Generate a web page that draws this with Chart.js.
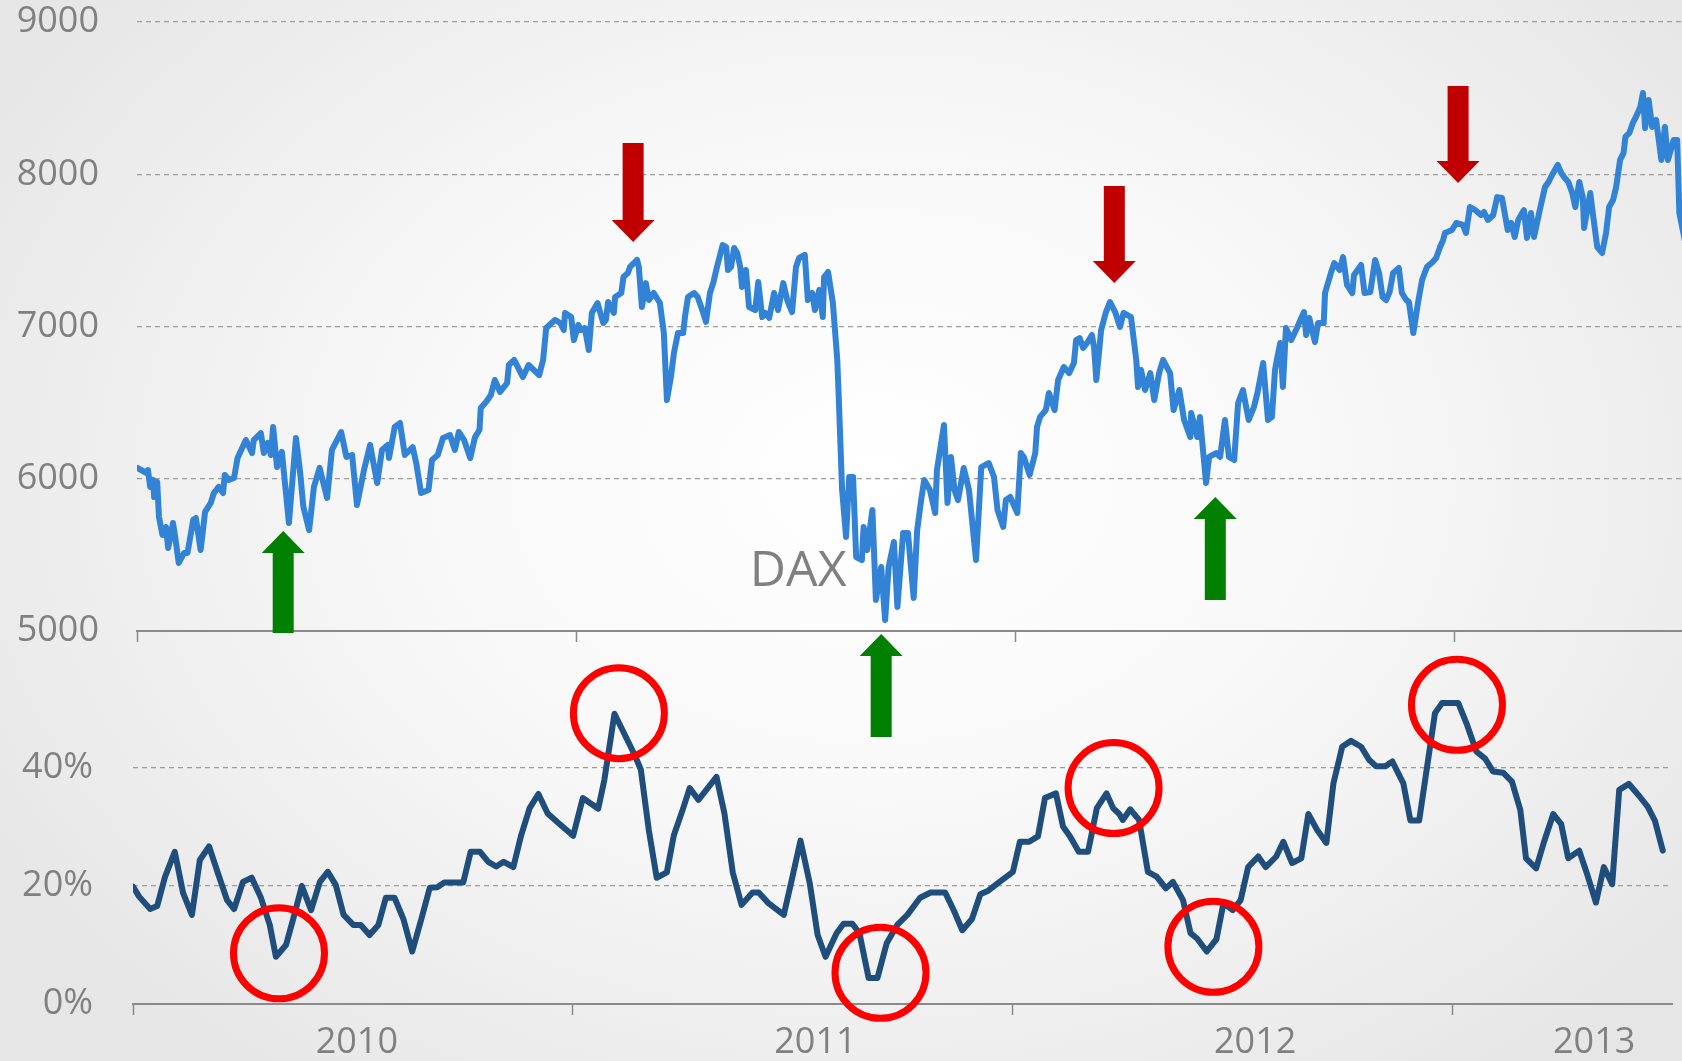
<!DOCTYPE html>
<html>
<head>
<meta charset="utf-8">
<script src="https://cdn.jsdelivr.net/npm/chart.js@4.4.1/dist/chart.umd.min.js"></script>
<style>
  html, body { margin: 0; padding: 0; width: 1682px; height: 1061px; overflow: hidden; }
  body { background: radial-gradient(ellipse 62% 72% at 52% 45%, #ffffff 0%, #f8f8f8 45%, #e6e6e6 100%); }
  canvas { position: absolute; left: 0; top: 0; }
</style>
</head>
<body>
<canvas id="daxChart" width="1682" height="1061"></canvas>
<canvas id="pctChart" width="1682" height="1061"></canvas>
<script>
// time axis: years since 1 Jan 2010
const YEAR_BOUNDS = [0, 1, 2, 3];
const YEAR_LABELS = ['2010', '2011', '2012', '2013'];
const YEAR_LABEL_POS = [0.509, 1.552, 2.552, 3.323];

const DAX_TICKS = [5000, 6000, 7000, 8000, 9000];
const PCT_TICKS = [0, 20, 40];

// DAX index (upper panel)
const DAX_T = [0.001,0.021,0.025,0.030,0.037,0.039,0.046,0.050,0.058,0.066,0.071,0.082,0.087,0.095,0.107,0.115,0.128,0.134,0.145,0.155,
  0.168,0.175,0.186,0.196,0.200,0.209,0.221,0.229,0.248,0.262,0.266,0.282,0.289,0.298,0.305,0.310,0.319,0.330,0.346,0.362,
  0.371,0.379,0.392,0.403,0.416,0.433,0.444,0.465,0.477,0.490,0.501,0.517,0.531,0.547,0.558,0.571,0.574,0.587,0.599,0.610,
  0.628,0.636,0.647,0.664,0.672,0.685,0.697,0.713,0.724,0.733,0.745,0.759,0.770,0.780,0.783,0.795,0.806,0.815,0.827,0.843,
  0.847,0.859,0.879,0.892,0.916,0.925,0.932,0.952,0.964,0.972,0.975,0.989,0.995,1.005,1.011,1.020,1.029,1.036,1.049,1.062,
  1.068,1.073,1.086,1.089,1.103,1.108,1.118,1.123,1.139,1.143,1.150,1.159,1.166,1.177,1.191,1.200,1.207,1.216,1.223,1.232,
  1.244,1.248,1.255,1.269,1.277,1.289,1.296,1.305,1.313,1.321,1.334,1.342,1.346,1.353,1.360,1.367,1.374,1.378,1.387,1.394,
  1.408,1.415,1.424,1.431,1.440,1.451,1.460,1.472,1.481,1.492,1.501,1.508,1.521,1.528,1.538,1.544,1.554,1.562,1.565,1.574,
  1.585,1.595,1.598,1.606,1.615,1.622,1.631,1.638,1.651,1.655,1.663,1.675,1.683,1.695,1.704,1.712,1.724,1.732,1.745,1.756,
  1.769,1.777,1.786,1.793,1.806,1.818,1.822,1.838,1.846,1.854,1.862,1.870,1.883,1.895,1.911,1.923,1.940,1.952,1.960,1.973,
  1.979,1.989,2.005,2.013,2.020,2.033,2.046,2.050,2.057,2.070,2.077,2.090,2.098,2.111,2.123,2.134,2.139,2.147,2.155,2.164,
  2.175,2.180,2.185,2.196,2.207,2.216,2.228,2.239,2.247,2.264,2.276,2.280,2.287,2.296,2.308,2.317,2.328,2.337,2.353,2.361,
  2.374,2.385,2.399,2.401,2.415,2.421,2.435,2.442,2.458,2.467,2.478,2.487,2.499,2.508,2.519,2.532,2.544,2.552,2.565,2.576,
  2.585,2.592,2.597,2.604,2.610,2.617,2.629,2.642,2.658,2.663,2.670,2.683,2.690,2.703,2.706,2.720,2.727,2.739,2.747,2.756,
  2.768,2.772,2.788,2.796,2.809,2.820,2.829,2.837,2.845,2.853,2.861,2.874,2.881,2.891,2.897,2.907,2.918,2.927,2.938,2.951,
  2.959,2.968,2.975,2.979,2.995,3.005,3.020,3.027,3.036,3.048,3.061,3.068,3.077,3.089,3.098,3.109,3.122,3.130,3.138,3.146,
  3.159,3.166,3.175,3.182,3.195,3.207,3.215,3.223,3.236,3.244,3.252,3.260,3.269,3.276,3.285,3.293,3.296,3.310,3.317,3.326,
  3.337,3.346,3.353,3.362,3.369,3.378,3.386,3.390,3.399,3.407,3.414,3.424,3.430,3.435,3.443,3.451,3.460,3.472,3.480,3.487,
  3.500,3.508,3.513,3.530];
const DAX_V = [6071,6038,6057,5946,5992,5880,5979,5749,5631,5683,5545,5709,5617,5447,5512,5512,5729,5742,5532,5782,
  5841,5906,5946,5906,6025,5992,6005,6136,6254,6169,6254,6300,6169,6235,6156,6340,6077,6176,5709,6268,
  6057,5814,5663,5946,6071,5874,6189,6307,6143,6156,5828,6057,6222,5972,6189,6222,6136,6340,6366,6156,
  6208,6103,5906,5926,6123,6156,6268,6287,6189,6307,6254,6136,6274,6320,6465,6504,6550,6649,6570,6629,
  6747,6780,6668,6747,6681,6780,6990,7043,7023,6977,7089,7062,6911,7010,6977,6990,6846,7089,7154,7023,
  7043,7161,7089,7194,7220,7325,7351,7391,7437,7391,7128,7285,7174,7220,7154,6957,6517,6668,6826,6957,
  6957,7062,7194,7220,7194,7095,7030,7220,7292,7391,7535,7522,7371,7391,7516,7483,7391,7260,7371,7128,
  7108,7292,7062,7089,7056,7220,7108,7285,7174,7095,7391,7450,7470,7174,7220,7108,7240,7062,7325,7358,
  7154,6780,6563,5926,5617,6011,6011,5486,5466,5683,5532,5795,5204,5420,5072,5420,5585,5158,5643,5643,
  5217,5663,5860,5992,5926,5775,6057,6353,5841,6143,5926,5860,6071,5926,5466,6077,6103,6011,5795,5683,
  5860,5880,5775,6169,6143,6025,6169,6340,6406,6451,6563,6451,6649,6734,6694,6760,6911,6924,6859,6892,
  6944,6859,6649,6977,7095,7161,7095,6997,7089,7062,6780,6603,6714,6583,6694,6517,6694,6780,6694,6451,
  6583,6386,6274,6432,6274,6406,5972,6143,6169,6143,6386,6143,6123,6498,6583,6386,6471,6563,6760,6386,
  6406,6714,6793,6892,6603,6990,6911,6990,7095,6944,7056,6898,7023,7023,7220,7358,7417,7371,7456,7273,
  7220,7338,7404,7220,7226,7437,7351,7194,7174,7226,7351,7384,7220,7174,7161,6957,7161,7305,7391,7424,
  7450,7522,7568,7614,7634,7680,7667,7614,7785,7765,7732,7752,7700,7732,7850,7844,7634,7680,7588,7700,
  7765,7582,7745,7588,7765,7916,7949,7995,8061,8008,7975,7949,7877,7785,7949,7850,7647,7877,7719,7522,
  7483,7614,7785,7831,7916,8094,8140,8245,8271,8337,8376,8442,8534,8304,8488,8311,8357,8094,8311,8094,
  8225,8225,7745,7500];

// percentage series (lower panel)
const PCT_T = [0.000,0.014,0.039,0.055,0.073,0.095,0.114,0.134,0.152,0.173,0.193,0.214,0.230,0.250,0.270,0.291,0.311,0.325,0.348,0.365,
  0.384,0.405,0.425,0.443,0.461,0.479,0.501,0.518,0.538,0.558,0.575,0.595,0.615,0.635,0.655,0.675,0.692,0.708,0.729,0.751,
  0.768,0.789,0.808,0.826,0.843,0.865,0.882,0.902,0.922,0.943,0.970,1.001,1.023,1.058,1.072,1.095,1.141,1.155,1.173,1.191,
  1.214,1.230,1.250,1.266,1.286,1.307,1.327,1.345,1.364,1.384,1.409,1.423,1.445,1.480,1.498,1.518,1.539,1.557,1.575,1.600,
  1.616,1.636,1.652,1.673,1.693,1.714,1.738,1.761,1.790,1.814,1.847,1.867,1.886,1.908,1.927,1.945,1.967,2.001,2.017,2.038,
  2.058,2.074,2.099,2.115,2.131,2.151,2.172,2.192,2.214,2.229,2.243,2.251,2.268,2.288,2.308,2.328,2.349,2.365,2.388,2.405,
  2.420,2.442,2.464,2.480,2.501,2.519,2.536,2.559,2.576,2.600,2.616,2.636,2.657,2.673,2.693,2.714,2.730,2.750,2.770,2.793,
  2.811,2.827,2.848,2.864,2.889,2.905,2.925,2.961,2.977,3.014,3.034,3.055,3.075,3.093,3.116,3.136,3.155,3.168,3.191,3.209,
  3.230,3.248,3.264,3.289,3.307,3.327,3.345,3.364,3.380,3.402,3.425,3.445,3.461,3.479];
const PCT_V = [19.9,18.2,16.1,16.6,21.6,25.8,18.8,15.1,24.4,26.7,22.2,17.6,16.1,20.7,21.4,18.0,13.4,8.0,10.0,14.6,
  20.0,15.9,20.7,22.4,20.2,15.1,13.4,13.4,11.7,13.4,18.0,18.0,14.4,8.9,14.2,19.7,19.8,20.6,20.6,20.6,
  25.8,25.8,24.1,23.3,24.1,23.2,28.4,33.2,35.6,32.3,30.5,28.5,34.9,33.1,38.0,49.2,42.2,39.7,29.5,21.4,
  22.3,28.6,32.9,36.6,34.6,36.6,38.5,32.3,22.3,16.8,18.9,18.9,17.1,15.1,21.0,27.7,20.5,11.7,8.0,12.0,
  13.6,13.6,12.0,4.4,4.4,10.3,13.4,15.1,18.0,18.9,18.9,15.8,12.5,14.4,18.6,19.2,20.5,22.4,27.5,27.5,
  28.4,34.9,35.7,30.1,28.4,25.8,25.8,33.2,35.7,33.2,32.2,31.2,33.0,31.2,22.4,21.6,19.6,20.7,17.6,12.0,
  11.1,8.9,11.0,17.1,15.9,17.6,23.2,25.0,23.2,25.0,27.5,23.9,24.7,32.2,29.5,27.3,37.4,43.6,44.6,43.6,
  41.4,40.3,40.3,41.1,37.4,31.1,31.1,49.3,51.0,51.0,47.3,42.8,41.6,39.4,39.2,37.7,32.9,24.7,23.0,27.5,
  32.2,30.5,24.7,26.0,22.0,17.2,23.2,20.3,36.3,37.3,35.3,33.4,31.1,26.0];

// annotations, in data units of each panel
const DAX_LABEL = { text: 'DAX', t: 1.506, v: 5296 };
const ARROWS = [
  { t: 0.333, tip: 5657, tail: 4987, color: '#008000' },
  { t: 1.130, tip: 7555, tail: 8205, color: '#c00000' },
  { t: 1.695, tip: 4980, tail: 4304, color: '#008000' },
  { t: 2.226, tip: 7286, tail: 7923, color: '#c00000' },
  { t: 2.456, tip: 5880, tail: 5204, color: '#008000' },
  { t: 3.009, tip: 7943, tail: 8580, color: '#c00000' }
];
const CIRCLES = [
  { t: 0.332, v: 8.6 }, { t: 1.105, v: 49.3 }, { t: 1.700, v: 5.3 },
  { t: 2.230, v: 36.6 }, { t: 2.457, v: 9.7 }, { t: 3.011, v: 50.7 }
];

const TEXT = '#808080';
const GRID = '#9c9c9c';
const AXIS = '#8a8a8a';
const CLEAR = 'rgba(0,0,0,0)';
Chart.defaults.font.family = "'Open Sans', sans-serif";

function drawArrow(ctx, x, yTip, yTail, color) {
  const dir = yTail > yTip ? 1 : -1;
  const yBase = yTip + dir * 22;
  ctx.fillStyle = color;
  ctx.beginPath();
  ctx.moveTo(x, yTip);
  ctx.lineTo(x + 21.5, yBase);
  ctx.lineTo(x + 10.5, yBase);
  ctx.lineTo(x + 10.5, yTail);
  ctx.lineTo(x - 10.5, yTail);
  ctx.lineTo(x - 10.5, yBase);
  ctx.lineTo(x - 21.5, yBase);
  ctx.closePath();
  ctx.fill();
}

const fixedTicks = list => scale => { scale.ticks = list.map(v => ({ value: v })); };

// upper panel: DAX
new Chart(document.getElementById('daxChart'), {
  type: 'line',
  data: {
    datasets: [{
      data: DAX_T.map((t, i) => ({ x: t, y: DAX_V[i] })),
      borderColor: '#3283d6',
      borderWidth: 6,
      borderJoinStyle: 'round',
      borderCapStyle: 'round',
      pointRadius: 0,
      tension: 0
    }]
  },
  options: {
    responsive: false,
    animation: false,
    events: [],
    layout: { padding: { top: 22, right: 0, bottom: 419, left: 0 } },
    plugins: { legend: { display: false }, tooltip: { enabled: false } },
    scales: {
      x: {
        type: 'linear', min: 0, max: 3.519,
        afterBuildTicks: fixedTicks(YEAR_BOUNDS),
        afterFit: s => { s.height = 11; },
        ticks: { display: false },
        grid: { drawOnChartArea: false, tickLength: 11, tickColor: AXIS, tickWidth: 1.5 },
        border: { color: AXIS, width: 2 }
      },
      y: {
        min: 5000, max: 9000,
        afterBuildTicks: fixedTicks(DAX_TICKS),
        afterFit: s => { s.width = 137; },
        ticks: { color: TEXT, font: { size: 36 }, padding: 0, callback: v => String(v) },
        grid: { color: GRID, lineWidth: 1.3, drawTicks: true, tickLength: 38, tickColor: CLEAR },
        border: { display: false, dash: [5, 4] }
      }
    }
  },
  plugins: [{
    id: 'daxNotes',
    afterDatasetsDraw(chart) {
      const { ctx, scales: { x, y } } = chart;
      ctx.save();
      ctx.fillStyle = TEXT;
      ctx.font = "50px 'Open Sans'";
      ctx.textAlign = 'center';
      ctx.textBaseline = 'alphabetic';
      ctx.fillText(DAX_LABEL.text, x.getPixelForValue(DAX_LABEL.t), y.getPixelForValue(DAX_LABEL.v));
      ARROWS.forEach(a => drawArrow(ctx, x.getPixelForValue(a.t), y.getPixelForValue(a.tip), y.getPixelForValue(a.tail), a.color));
      ctx.restore();
    }
  }]
});

// lower panel: percentage
const xTicks = YEAR_BOUNDS.concat(YEAR_LABEL_POS).sort((a, b) => a - b);
new Chart(document.getElementById('pctChart'), {
  type: 'line',
  data: {
    datasets: [{
      data: PCT_T.map((t, i) => ({ x: t, y: PCT_V[i] })),
      borderColor: '#1f4e7d',
      borderWidth: 6,
      borderJoinStyle: 'round',
      borderCapStyle: 'round',
      pointRadius: 0,
      tension: 0
    }]
  },
  options: {
    responsive: false,
    animation: false,
    events: [],
    layout: { padding: { top: 650, right: 10, bottom: 0, left: 0 } },
    plugins: { legend: { display: false }, tooltip: { enabled: false } },
    scales: {
      x: {
        type: 'linear', min: 0, max: 3.5,
        afterBuildTicks: fixedTicks(xTicks),
        afterFit: s => { s.height = 57; },
        ticks: {
          autoSkip: false, maxRotation: 0, color: TEXT, font: { size: 36 }, padding: 6,
          callback: v => { const i = YEAR_LABEL_POS.indexOf(v); return i >= 0 ? YEAR_LABELS[i] : ''; }
        },
        grid: {
          drawOnChartArea: false, tickLength: 11, tickWidth: 1.5,
          tickColor: c => (c.tick && YEAR_BOUNDS.includes(c.tick.value)) ? AXIS : CLEAR
        },
        border: { color: AXIS, width: 2 }
      },
      y: {
        min: 0, max: 60,
        afterBuildTicks: fixedTicks(PCT_TICKS),
        afterFit: s => { s.width = 133; },
        ticks: { color: TEXT, font: { size: 36 }, padding: 0, callback: v => v + '%' },
        grid: { color: GRID, lineWidth: 1.3, drawTicks: true, tickLength: 40, tickColor: CLEAR },
        border: { display: false, dash: [5, 4] }
      }
    }
  },
  plugins: [{
    id: 'pctNotes',
    afterDatasetsDraw(chart) {
      const { ctx, scales: { x, y } } = chart;
      ctx.save();
      ctx.strokeStyle = '#ff0000';
      ctx.lineWidth = 7;
      CIRCLES.forEach(c => {
        ctx.beginPath();
        ctx.arc(x.getPixelForValue(c.t), y.getPixelForValue(c.v), 45.5, 0, Math.PI * 2);
        ctx.stroke();
      });
      ctx.restore();
    }
  }]
});
</script>
</body>
</html>
